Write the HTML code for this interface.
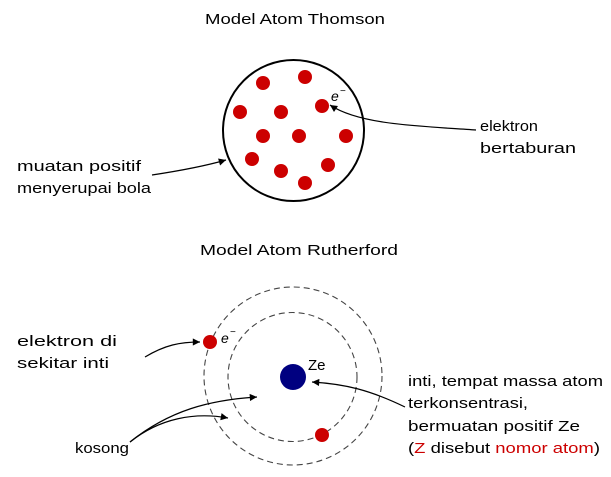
<!DOCTYPE html>
<html><head><meta charset="utf-8"><style>
html,body{margin:0;padding:0;background:#fff;}
svg{display:block;}
text{font-family:"Liberation Sans",sans-serif;font-size:15px;fill:#000;}
</style></head><body>
<svg width="611" height="477" viewBox="0 0 611 477" xmlns="http://www.w3.org/2000/svg">
<defs><marker id="a" viewBox="0 0 10 10" refX="10" refY="5" markerWidth="8" markerHeight="6" orient="auto"><path d="M0,0 L10,5 L0,10 z" fill="#000"/></marker></defs>
<text x="205" y="24" textLength="180" lengthAdjust="spacingAndGlyphs">Model Atom Thomson</text>
<circle cx="293.5" cy="130.5" r="70.5" fill="none" stroke="#000" stroke-width="2"/>
<g fill="#cc0000">
<circle cx="263" cy="83" r="7"/><circle cx="305" cy="77" r="7"/><circle cx="322" cy="106" r="7"/>
<circle cx="240" cy="112" r="7"/><circle cx="281" cy="112" r="7"/><circle cx="263" cy="136" r="7"/>
<circle cx="299" cy="136" r="7"/><circle cx="346" cy="136" r="7"/><circle cx="252" cy="159" r="7"/>
<circle cx="281" cy="171" r="7"/><circle cx="328" cy="165" r="7"/><circle cx="305" cy="183" r="7"/>
</g>
<text x="331" y="101" font-style="italic" style="font-size:14px">e</text><text x="340" y="94" style="font-size:10px">−</text>
<path d="M476,130 C420,126 360,125 330,105" fill="none" stroke="#000" stroke-width="1.2" marker-end="url(#a)"/>
<path d="M152,175 C185,170 205,166 226,160" fill="none" stroke="#000" stroke-width="1.2" marker-end="url(#a)"/>
<text x="480" y="131" textLength="58" lengthAdjust="spacingAndGlyphs">elektron</text>
<text x="480" y="153" textLength="96" lengthAdjust="spacingAndGlyphs">bertaburan</text>
<text x="17" y="171" textLength="124" lengthAdjust="spacingAndGlyphs">muatan positif</text>
<text x="17" y="193" textLength="134" lengthAdjust="spacingAndGlyphs">menyerupai bola</text>

<text x="200" y="255" textLength="198" lengthAdjust="spacingAndGlyphs">Model Atom Rutherford</text>
<circle cx="293" cy="376" r="89" fill="none" stroke="#444" stroke-width="1.1" stroke-dasharray="6,4"/>
<circle cx="292.5" cy="377" r="64.5" fill="none" stroke="#444" stroke-width="1.1" stroke-dasharray="6,4"/>
<circle cx="293" cy="377" r="13" fill="#000080"/>
<circle cx="210" cy="342" r="7" fill="#cc0000"/>
<circle cx="322" cy="435" r="7" fill="#cc0000"/>
<text x="308" y="370" style="font-size:15px">Ze</text>
<text x="221" y="343" font-style="italic" style="font-size:14px">e</text><text x="230" y="335" style="font-size:10px">−</text>
<path d="M145,357 C165,345 180,342 200,342" fill="none" stroke="#000" stroke-width="1.2" marker-end="url(#a)"/>
<path d="M130,442 C170,410 210,400 257,397" fill="none" stroke="#000" stroke-width="1.2" marker-end="url(#a)"/>
<path d="M130,442 C160,418 195,412 228,418" fill="none" stroke="#000" stroke-width="1.2" marker-end="url(#a)"/>
<path d="M405,407 C370,390 345,384 312,382" fill="none" stroke="#000" stroke-width="1.2" marker-end="url(#a)"/>
<text x="17" y="346" textLength="100" lengthAdjust="spacingAndGlyphs">elektron di</text>
<text x="17" y="368" textLength="92" lengthAdjust="spacingAndGlyphs">sekitar inti</text>
<text x="75" y="453" textLength="54" lengthAdjust="spacingAndGlyphs">kosong</text>
<text x="408" y="386" textLength="195" lengthAdjust="spacingAndGlyphs">inti, tempat massa atom</text>
<text x="408" y="408" textLength="120" lengthAdjust="spacingAndGlyphs">terkonsentrasi,</text>
<text x="408" y="431" textLength="172" lengthAdjust="spacingAndGlyphs">bermuatan positif Ze</text>
<text x="408" y="453" textLength="192" lengthAdjust="spacingAndGlyphs">(<tspan fill="#cc0000">Z</tspan> disebut <tspan fill="#cc0000">nomor atom</tspan>)</text>
</svg>
</body></html>
